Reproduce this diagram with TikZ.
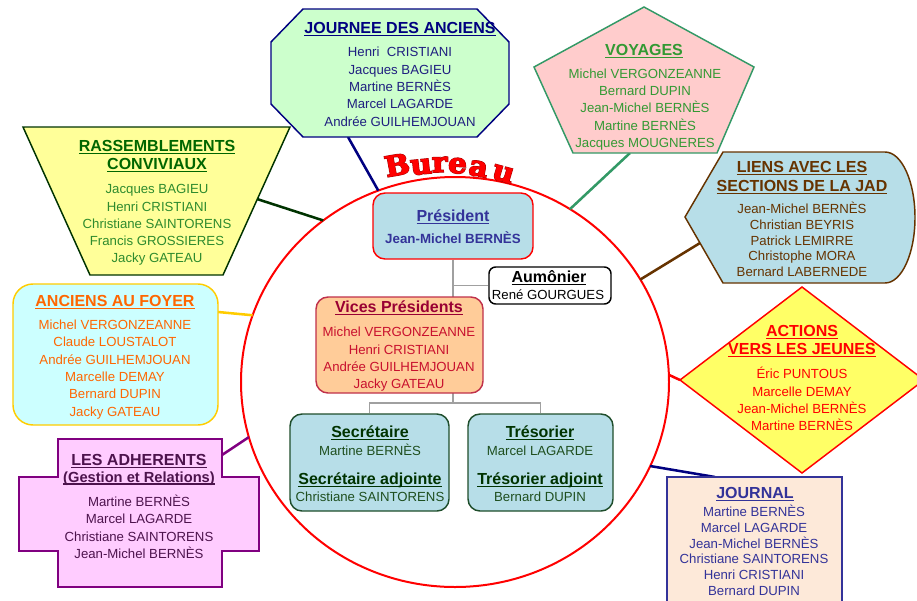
\documentclass[tikz,border=0pt]{standalone}
\usepackage{fontspec}
\setmainfont{Liberation Sans}
\newfontfamily\burout[BoldFeatures={FakeBold=5}]{DejaVu Serif}
\newfontfamily\burin[BoldFeatures={FakeBold=1.5}]{DejaVu Serif}
\usetikzlibrary{backgrounds,calc}
\newsavebox\ulbox
\newcommand{\ulx}[1]{\leavevmode\sbox\ulbox{#1}\rlap{\rule[-2pt]{\wd\ulbox}{1.1pt}}\usebox\ulbox}
\definecolor{jfill}{HTML}{CCFFCC}\definecolor{jline}{HTML}{000080}\definecolor{jtext}{HTML}{1F1F80}
\definecolor{vfill}{HTML}{FFCCCC}\definecolor{vline}{HTML}{339966}\definecolor{vtext}{HTML}{339933}
\definecolor{rfill}{HTML}{FFFF99}\definecolor{rline}{HTML}{003300}\definecolor{rtitle}{HTML}{006600}\definecolor{rtext}{HTML}{2E8B2E}
\definecolor{lfill}{HTML}{B7DEE8}\definecolor{lline}{HTML}{663300}\definecolor{ltext}{HTML}{663300}
\definecolor{ffill}{HTML}{CCFFFF}\definecolor{fline}{HTML}{FFCC00}\definecolor{ftext}{HTML}{FF6600}
\definecolor{afill}{HTML}{FFFF66}\definecolor{aline}{HTML}{FF0000}
\definecolor{dfill}{HTML}{FFCCFF}\definecolor{dline}{HTML}{800080}\definecolor{dtext}{HTML}{4D134D}
\definecolor{nfill}{HTML}{FDE9D9}\definecolor{nline}{HTML}{333399}\definecolor{ntext}{HTML}{333399}
\definecolor{ptext}{HTML}{333399}
\definecolor{vpfill}{HTML}{FFCC99}\definecolor{vpline}{HTML}{C0304A}\definecolor{vptitle}{HTML}{990033}\definecolor{vptext}{HTML}{C8102E}
\definecolor{sline}{HTML}{1E4D2B}\definecolor{stitle}{HTML}{003300}\definecolor{stext}{HTML}{1F4F1F}
\definecolor{grayline}{HTML}{A0A0A0}
\definecolor{burdark}{HTML}{A00000}
\tikzset{
  nm/.style={inner sep=0pt, text height=7.1pt, text depth=0pt, font=\fontsize{9.9}{11}\selectfont},
  tt/.style={inner sep=0pt, text height=8.6pt, text depth=0pt, font=\fontsize{12}{14}\selectfont\bfseries},
  ttsmall/.style={inner sep=0pt, text height=7.9pt, text depth=0pt, font=\fontsize{11}{13}\selectfont\bfseries},
  shapeline/.style={line width=1.1pt, line join=miter},
  conn/.style={line width=1.9pt},
  burA/.style={inner sep=0pt, anchor=base, xscale=1.05, text=burdark, font=\burout\bfseries\fontsize{21}{21}\selectfont},
  burB/.style={inner sep=0pt, anchor=base, xscale=1.05, text=red, font=\burin\bfseries\fontsize{21}{21}\selectfont},
  ibox/.style={rectangle, rounded corners=9pt, line width=1.1pt},
  tree/.style={draw=grayline, line width=0.9pt}
}
\begin{document}
\begin{tikzpicture}[x=0.75pt,y=-0.75pt]
\useasboundingbox (0,0) rectangle (917,600);
% ---- central ellipse ----
\coordinate (ctr) at (455,382);
\draw[red, line width=1.5pt] (ctr) ellipse [x radius=214, y radius=205];
\coordinate (eJ) at ({455+214*cos(111)},{382-205*sin(111)});
\coordinate (eV) at ({455+214*cos(57.5)},{382-205*sin(57.5)});
\coordinate (eR) at ({455+214*cos(128)},{382-205*sin(128)});
\coordinate (eL) at ({455+214*cos(30)},{382-205*sin(30)});
\coordinate (eF) at ({455+214*cos(161)},{382-205*sin(161)});
\coordinate (eA) at ({455+214*cos(2)},{382-205*sin(2)});
\coordinate (eD) at ({455+214*cos(195.6)},{382-205*sin(195.6)});
\coordinate (eN) at ({455+214*cos(-24.2)},{382-205*sin(-24.2)});
% ---- shape anchor points ----
\coordinate (sJ) at (348,137);
\coordinate (sV) at (630,153);
\coordinate (sR) at (257,199);
\coordinate (sL) at (700,243);
\coordinate (sF) at (218,312);
\coordinate (sA) at (680,380);
\coordinate (sD) at (222,455);
\coordinate (sN) at (715,477);
% ---- connectors ----
\draw[conn, jline] (eJ) -- (sJ);
\draw[conn, vline] (eV) -- (sV);
\draw[conn, rline] (eR) -- (sR);
\draw[conn, lline] (eL) -- (sL);
\draw[conn, fline] (eF) -- (sF);
\draw[conn, aline] (eA) -- (sA);
\draw[conn, dline] (eD) -- (sD);
\draw[conn, jline] (eN) -- (sN);
% ---- Bureau ----
\foreach \c/\x/\y/\a [count=\i] in {B/399/175/10, u/422/174/6, r/440/172/2, e/457/173/-4, a/477/176/-10, u/501/181/-16}
  {\node[burA, rotate=\a] (bua\i) at (\x,\y) {\c};
   \node[burB, rotate=\a] (bub\i) at (\x,\y) {\c};}
% ---- JOURNEE DES ANCIENS ----
\draw[shapeline, draw=jline, fill=jfill] (303,9) -- (477,9) -- (509,42) -- (509,104) -- (477,137) -- (303,137) -- (271,104) -- (271,42) -- cycle;
\node[tt, text=jline] (jt) at (400,28) {\ulx{JOURNEE DES ANCIENS}};
\foreach \t/\yy [count=\i] in {Henri\ \ CRISTIANI/52, Jacques BAGIEU/70, Martine BERNÈS/87, Marcel LAGARDE/104, Andrée GUILHEMJOUAN/122}
  \node[nm, text=jtext] (jn\i) at (400,\yy) {\t};
% ---- VOYAGES ----
\draw[shapeline, draw=vline, fill=vfill] (644,7) -- (754,67) -- (717,153) -- (573,153) -- (534,67) -- cycle;
\node[tt, text=vtext] (vt) at (644,50) {\ulx{VOYAGES}};
\foreach \t/\yy [count=\i] in {Michel VERGONZEANNE/74, Bernard DUPIN/91, Jean-Michel BERNÈS/108, Martine BERNÈS/126, Jacques MOUGNERES/143}
  \node[nm, text=vtext] (vn\i) at (645,\yy) {\t};
% ---- RASSEMBLEMENTS ----
\draw[shapeline, draw=rline, fill=rfill] (23,127) -- (290,127) -- (223,275) -- (90,275) -- cycle;
\node[tt, text=rtitle] (rt1) at (157,146) {\ulx{RASSEMBLEMENTS}};
\node[tt, text=rtitle] (rt2) at (157,164) {\ulx{CONVIVIAUX}};
\foreach \t/\yy [count=\i] in {Jacques BAGIEU/189, Henri CRISTIANI/207, Christiane SAINTORENS/224, Francis GROSSIERES/241, Jacky GATEAU/258}
  \node[nm, text=rtext] (rn\i) at (157,\yy) {\t};
% ---- LIENS ----
\draw[shapeline, draw=lline, fill=lfill] (685,217) -- (723,152) -- (885,152) .. controls (901.6,152) and (915,181.3) .. (915,217.5) .. controls (915,253.7) and (901.6,283) .. (885,283) -- (723,283) -- cycle;
\node[tt, text=ltext] (lt1) at (802,167) {\ulx{LIENS AVEC LES}};
\node[tt, text=ltext] (lt2) at (802,186) {\ulx{SECTIONS DE LA JAD}};
\foreach \t/\yy [count=\i] in {Jean-Michel BERNÈS/209, Christian BEYRIS/225, Patrick LEMIRRE/241, Christophe MORA/256, Bernard LABERNEDE/272}
  \node[nm, text=ltext] (ln\i) at (802,\yy) {\t};
% ---- ANCIENS AU FOYER ----
\draw[shapeline, draw=fline, fill=ffill, rounded corners=15pt] (13,284) rectangle (218,425);
\node[tt, text=ftext] (ft) at (115,301) {\ulx{ANCIENS AU FOYER}};
\foreach \t/\yy [count=\i] in {Michel VERGONZEANNE/325, Claude LOUSTALOT/342, Andrée GUILHEMJOUAN/360, Marcelle DEMAY/377, Bernard DUPIN/394, Jacky GATEAU/412}
  \node[nm, text=ftext] (fn\i) at (115,\yy) {\t};
% ---- ACTIONS ----
\draw[shapeline, draw=aline, fill=afill] (802,287) -- (924,380) -- (802,473) -- (680,380) -- cycle;
\node[tt, text=red] (at1) at (802,331) {\ulx{ACTIONS}};
\node[tt, text=red] (at2) at (802,349) {\ulx{VERS LES JEUNES}};
\foreach \t/\yy [count=\i] in {Éric PUNTOUS/374, Marcelle DEMAY/392, Jean-Michel BERNÈS/409, Martine BERNÈS/426}
  \node[nm, text=red] (an\i) at (802,\yy) {\t};
% ---- LES ADHERENTS ----
\draw[shapeline, draw=dline, fill=dfill] (58,439) -- (222,439) -- (222,477) -- (259,477) -- (259,551) -- (222,551) -- (222,587) -- (58,587) -- (58,551) -- (19,551) -- (19,477) -- (58,477) -- cycle;
\node[tt, text=dtext] (dt1) at (139,460) {\ulx{LES ADHERENTS}};
\node[ttsmall, text=dtext] (dt2) at (139,477) {\ulx{(Gestion et Relations)}};
\foreach \t/\yy [count=\i] in {Martine BERNÈS/502, Marcel LAGARDE/519, Christiane SAINTORENS/537, Jean-Michel BERNÈS/554}
  \node[nm, text=dtext] (dn\i) at (139,\yy) {\t};
% ---- JOURNAL ----
\draw[shapeline, draw=nline, fill=nfill] (667,477) rectangle (842,612);
\node[tt, text=ntext] (nt) at (755,493) {\ulx{JOURNAL}};
\foreach \t/\yy [count=\i] in {Martine BERNÈS/512, Marcel LAGARDE/528, Jean-Michel BERNÈS/544, Christiane SAINTORENS/559, Henri CRISTIANI/575, Bernard DUPIN/591}
  \node[nm, text=ntext] (nn\i) at (754,\yy) {\t};
% ---- Bureau inner boxes ----
\node[ibox, draw=red, fill=lfill, minimum width=120pt, minimum height=49.5pt] (pres) at (453,226) {};
\node[ibox, rounded corners=5pt, draw=black, fill=white, minimum width=91.5pt, minimum height=27.75pt] (aum) at (550,285.5) {};
\node[ibox, draw=vpline, fill=vpfill, minimum width=125.25pt, minimum height=72pt] (vices) at (399.5,345) {};
\node[ibox, draw=sline, fill=lfill, minimum width=119.25pt, minimum height=72.75pt] (sec) at (369.5,462.5) {};
\node[ibox, draw=sline, fill=lfill, minimum width=108.75pt, minimum height=72.75pt] (tres) at (540.5,462.5) {};
\coordinate (br) at (453,403);
\begin{pgfonlayer}{background}
  \draw[tree] (pres.south) -- (br);
  \draw[tree] (aum.west) -- (aum.west -| pres.south);
  \draw[tree] (sec.north) |- (br) -| (tres.north);
\end{pgfonlayer}
\node[tt, text=ptext] (pt) at (453,216) {\ulx{Président}};
\node[nm, text=ptext, font=\fontsize{10}{12}\selectfont\bfseries] (pn) at (453,239) {Jean-Michel BERNÈS};
\node[tt, text=black] (aut) at (549,277) {\ulx{Aumônier}};
\node[nm, text=black] (aun) at (548,295) {René GOURGUES};
\node[tt, text=vptitle] (vpt) at (399,307) {\ulx{Vices Présidents}};
\foreach \t/\yy [count=\i] in {Michel VERGONZEANNE/332, Henri CRISTIANI/350, Andrée GUILHEMJOUAN/367, Jacky GATEAU/384}
  \node[nm, text=vptext] (vpn\i) at (399,\yy) {\t};
\node[tt, text=stitle] (st1) at (370,432) {\ulx{Secrétaire}};
\node[nm, text=stext] (sn1) at (370,451) {Martine BERNÈS};
\node[tt, text=stitle] (st2) at (370,479) {\ulx{Secrétaire adjointe}};
\node[nm, text=stext] (sn2) at (370,497) {Christiane SAINTORENS};
\node[tt, text=stitle] (tt1) at (540,432) {\ulx{Trésorier}};
\node[nm, text=stext] (tn1) at (540,451) {Marcel LAGARDE};
\node[tt, text=stitle] (tt2) at (540,479) {\ulx{Trésorier adjoint}};
\node[nm, text=stext] (tn2) at (540,497) {Bernard DUPIN};
\end{tikzpicture}
\end{document}
